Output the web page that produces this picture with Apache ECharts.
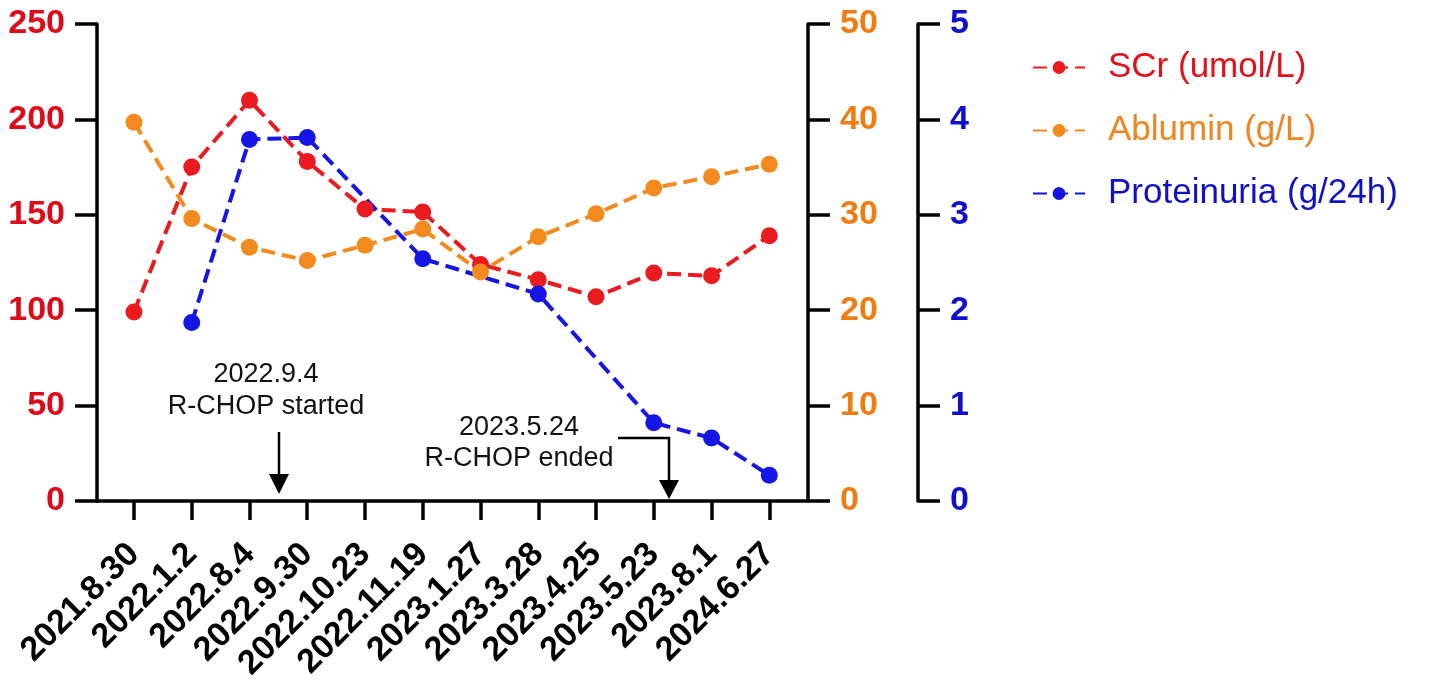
<!DOCTYPE html>
<html>
<head>
<meta charset="utf-8">
<script src="https://cdn.jsdelivr.net/npm/echarts@6/dist/echarts.min.js"></script>
<style>
  html, body { margin: 0; padding: 0; background: #fff; }
  #main { width: 1429px; height: 690px; }
</style>
</head>
<body>
<div id="main"></div>
<script>
// 日期
var categories = ['2021.8.30', '2022.1.2', '2022.8.4', '2022.9.30', '2022.10.23', '2022.11.19',
  '2023.1.27', '2023.3.28', '2023.4.25', '2023.5.23', '2023.8.1', '2024.6.27'];
// 血肌酐 umol/L
var scr = [99, 175, 210, 178, 153, 151.5, 124, 116, 107, 119.5, 118, 139];
// 白蛋白 g/L
var albumin = [39.7, 29.6, 26.6, 25.2, 26.8, 28.5, 24.0, 27.7, 30.1, 32.8, 34.0, 35.3];
// 尿蛋白 g/24h（空的日期没测）
var proteinuria = [null, 1.87, 3.79, 3.81, null, 2.54, null, 2.17, null, 0.82, 0.66, 0.27];
// 刻度 [min, max, interval]
var scrTicks = [0, 250, 50];
var albTicks = [0, 50, 10];
var proTicks = [0, 5, 1];

var FONT = '"Liberation Sans", Arial, sans-serif';
var RED = '#ea1a1e', ORANGE = '#f28a1e', BLUE = '#1515e8';

function points(arr) {
  var out = [];
  for (var i = 0; i < arr.length; i++) {
    if (arr[i] !== null) out.push([i, arr[i]]);
  }
  return out;
}

function yAxis(ticks, pos, offset, color) {
  return {
    type: 'value',
    position: pos,
    offset: offset,
    min: ticks[0],
    max: ticks[1],
    interval: ticks[2],
    splitLine: { show: false },
    axisLine: { show: true, onZero: false, lineStyle: { color: '#000', width: 3.5 } },
    axisTick: { show: true, length: 22, lineStyle: { color: '#000', width: 3.5 } },
    axisLabel: { color: color, fontSize: 34, fontWeight: 'bold', fontFamily: FONT, margin: 32 }
  };
}

function lineSeries(name, arr, color, yIdx) {
  return {
    name: name,
    type: 'line',
    yAxisIndex: yIdx,
    data: points(arr),
    connectNulls: true,
    symbol: 'circle',
    symbolSize: 17,
    itemStyle: { color: color },
    lineStyle: { color: color, width: 4, type: [14, 7] }
  };
}

var chart = echarts.init(document.getElementById('main'));
var idx = categories.map(function (c, i) { return i; });

var option = {
  backgroundColor: '#fff',
  animation: false,
  grid: { left: 97, right: 621, top: 24, bottom: 189 },
  legend: {
    orient: 'vertical',
    left: 1027,
    top: 45,
    itemWidth: 52,
    itemHeight: 16,
    itemGap: 28,
    textStyle: { fontSize: 35, fontFamily: FONT, padding: [0, 0, 0, 18] },
    data: [
      { name: 'SCr (umol/L)', textStyle: { color: '#e3101a' } },
      { name: 'Ablumin (g/L)', textStyle: { color: '#ef8420' } },
      { name: 'Proteinuria (g/24h)', textStyle: { color: '#1010c8' } }
    ]
  },
  xAxis: {
    type: 'value',
    min: -0.64,
    max: 11.67,
    splitLine: { show: false },
    axisLine: { lineStyle: { color: '#000', width: 3.5 } },
    axisTick: { show: true, length: 19, customValues: idx, lineStyle: { color: '#000', width: 3.5 } },
    axisLabel: {
      customValues: idx,
      rotate: 45,
      margin: 48,
      color: '#000',
      fontSize: 34,
      fontWeight: 'bold',
      fontFamily: FONT,
      formatter: function (v) { return categories[v]; }
    }
  },
  yAxis: [
    yAxis(scrTicks, 'left', 0, '#dd0a1a'),
    yAxis(albTicks, 'right', 0, '#f07d12'),
    yAxis(proTicks, 'right', 110, '#1010cc')
  ],
  series: [
    lineSeries('SCr (umol/L)', scr, RED, 0),
    lineSeries('Ablumin (g/L)', albumin, ORANGE, 1),
    lineSeries('Proteinuria (g/24h)', proteinuria, BLUE, 2)
  ],
  graphic: [
    // 开始治疗
    { type: 'text', x: 266, y: 359, style: { text: '2022.9.4\nR-CHOP started', font: '27px ' + FONT, fill: '#111', textAlign: 'center', lineHeight: 32 } },
    { type: 'line', shape: { x1: 279, y1: 432, x2: 279, y2: 478 }, style: { stroke: '#000', lineWidth: 2.5 } },
    { type: 'polygon', shape: { points: [[269, 474], [289, 474], [279, 494]] }, style: { fill: '#000' } },
    // 治疗结束
    { type: 'text', x: 519, y: 412, style: { text: '2023.5.24\nR-CHOP ended', font: '27px ' + FONT, fill: '#111', textAlign: 'center', lineHeight: 31 } },
    { type: 'polyline', shape: { points: [[618, 438], [669, 438], [669, 484]] }, style: { stroke: '#000', lineWidth: 2.5, fill: null } },
    { type: 'polygon', shape: { points: [[659, 480], [679, 480], [669, 499]] }, style: { fill: '#000' } }
  ]
};

chart.setOption(option);
</script>
</body>
</html>
